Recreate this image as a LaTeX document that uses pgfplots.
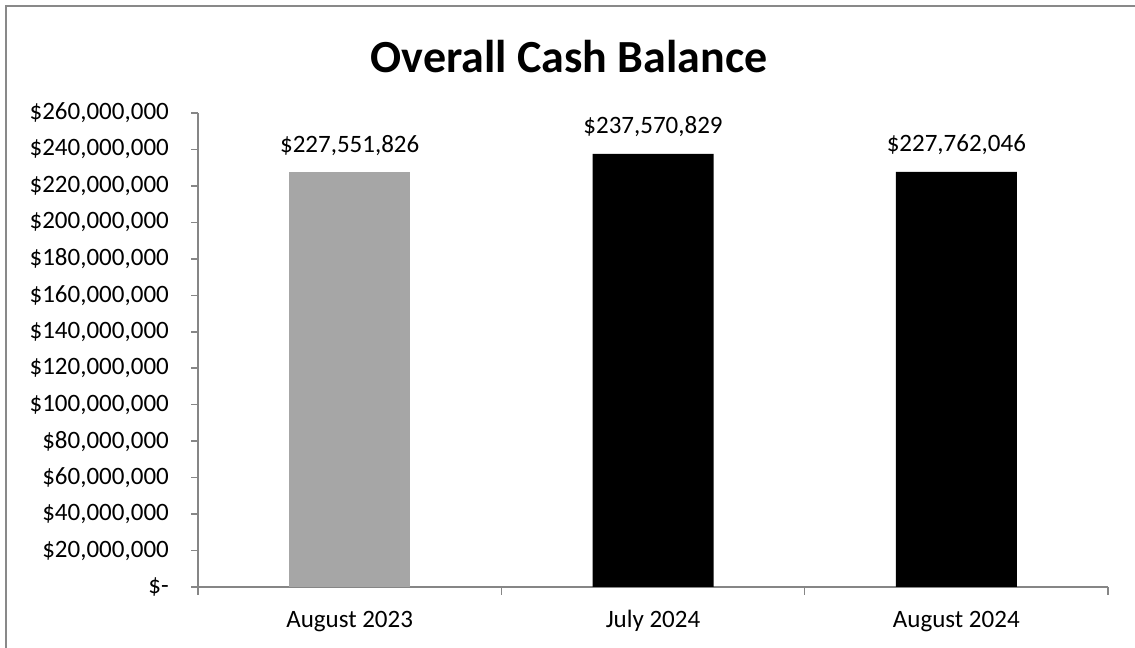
\documentclass[border=0pt]{standalone}
\usepackage{pgfplots}
\pgfplotsset{compat=1.18}
\usepackage{fontspec}
\setmainfont{Carlito}
\definecolor{axgray}{HTML}{868686}
\definecolor{framegray}{HTML}{898989}
\definecolor{bargray}{HTML}{A6A6A6}
\begin{document}
\begin{tikzpicture}[x=1bp,y=1bp]
\useasboundingbox (0,0) rectangle (1135,648);
\draw[line width=2bp, framegray] (6,0) -- (6,642) -- (1135,642);
\node[font=\fontsize{46bp}{55bp}\selectfont\bfseries] at (569,591) {Overall Cash Balance};
\begin{axis}[
  at={(198bp,61bp)}, anchor=south west,
  scale only axis, width=910bp, height=474bp,
  axis x line=bottom, axis y line=left,
  axis line style={-, axgray, line width=1.5bp},
  every tick/.style={axgray, line width=1.5bp},
  tick align=outside,
  font=\fontsize{25bp}{30bp}\selectfont,
  xmin=-0.5, xmax=2.5,
  xtick={0,1,2}, major x tick style={draw=none},
  xticklabels={August 2023, July 2024, August 2024},
  minor xtick={-0.5,0.5,1.5,2.5}, minor tick length=8bp,
  xticklabel style={anchor=base, inner sep=0pt, yshift=-34bp},
  ymin=0, ymax=260000000,
  ytick={0,20000000,40000000,60000000,80000000,100000000,120000000,140000000,160000000,180000000,200000000,220000000,240000000,260000000},
  yticklabels={{\$-},{\$20,000,000},{\$40,000,000},{\$60,000,000},{\$80,000,000},{\$100,000,000},{\$120,000,000},{\$140,000,000},{\$160,000,000},{\$180,000,000},{\$200,000,000},{\$220,000,000},{\$240,000,000},{\$260,000,000}},
  major tick length=7bp,
  yticklabel style={anchor=east, inner sep=0pt, xshift=-22bp},
  scaled y ticks=false,
  ybar, bar width=121bp, bar shift=0pt,
  point meta=explicit symbolic,
  nodes near coords,
  every node near coord/.append style={anchor=base, inner sep=0pt, yshift=20bp, black},
  clip=false,
]
\addplot[fill=bargray, draw=none] coordinates {(0,227551826) [\$227,551,826]};
\addplot[fill=black, draw=none] coordinates {(1,237570829) [\$237,570,829] (2,227762046) [\$227,762,046]};
\end{axis}
\end{tikzpicture}
\end{document}
